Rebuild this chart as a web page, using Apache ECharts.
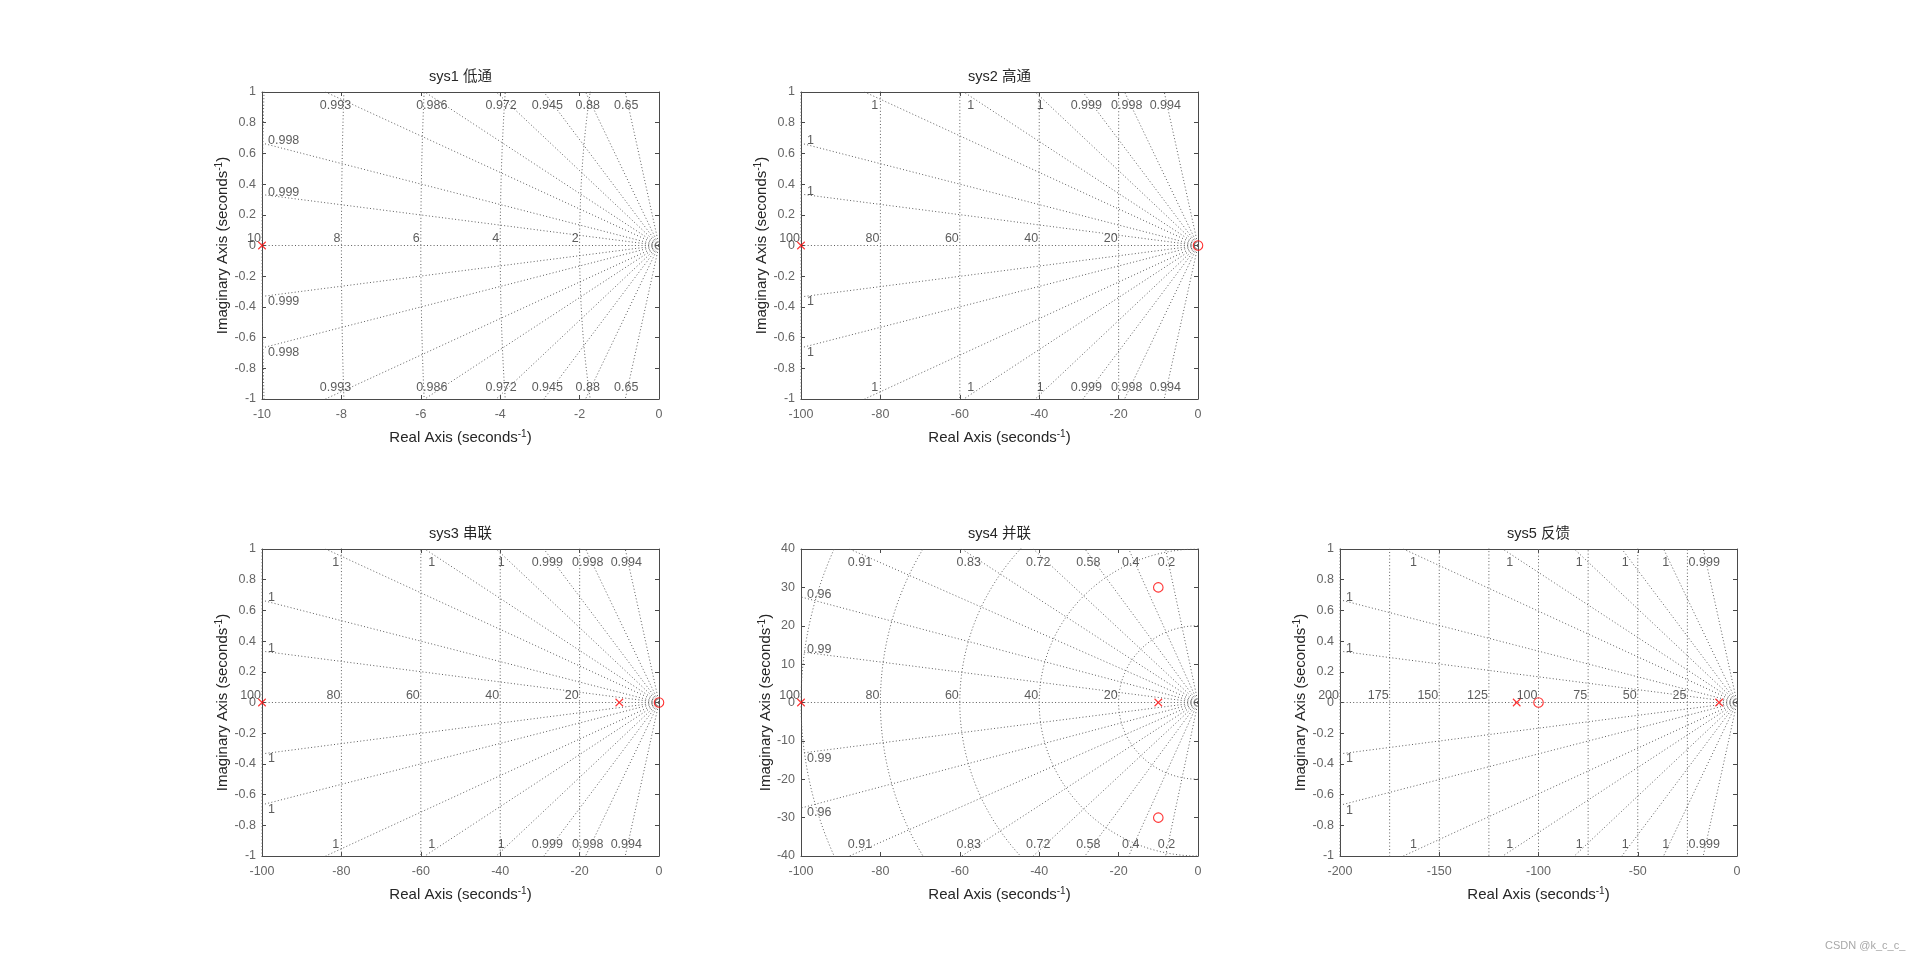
<!DOCTYPE html>
<html><head><meta charset="utf-8">
<script src="https://cdn.jsdelivr.net/npm/echarts@6/dist/echarts.min.js"></script>
<style>html,body{margin:0;padding:0;background:#fff}#c{width:1920px;height:962px}</style>
</head><body><div id="c"></div>
<script>
// ---------------- data ----------------
const titles = ['sys1 低通', 'sys2 高通', 'sys3 串联', 'sys4 并联', 'sys5 反馈'];
const xRanges = [[-10, 0], [-100, 0], [-100, 0], [-100, 0], [-200, 0]];
const yRanges = [[-1, 1], [-1, 1], [-1, 1], [-40, 40], [-1, 1]];
const xIntervals = [2, 20, 20, 20, 50];
const yIntervals = [0.2, 0.2, 0.2, 10, 0.2];

// damping ratios of the grid rays (upper half, mirrored below) and their labels
const zeta1 = [0.99945, 0.99778, 0.99299, 0.98594, 0.97152, 0.94538, 0.8797, 0.6476];
const zetaLabels1 = ['0.999', '0.998', '0.993', '0.986', '0.972', '0.945', '0.88', '0.65'];
const zeta2 = [0.9999944, 0.9999778, 0.9999291, 0.9998564, 0.9997026, 0.999406, 0.998542, 0.993151];
const zetaLabels2 = ['1', '1', '1', '1', '1', '0.999', '0.998', '0.994'];
const zeta3 = [0.9999944, 0.9999778, 0.9999291, 0.9998564, 0.9997026, 0.999406, 0.998542, 0.993151];
const zetaLabels3 = ['1', '1', '1', '1', '1', '0.999', '0.998', '0.994'];
const zeta4 = [0.9914, 0.9642, 0.91, 0.83, 0.72, 0.58, 0.4, 0.2];
const zetaLabels4 = ['0.99', '0.96', '0.91', '0.83', '0.72', '0.58', '0.4', '0.2'];
const zeta5 = [0.9999986, 0.9999944, 0.9999823, 0.9999641, 0.9999256, 0.9998514, 0.9996348, 0.998275];
const zetaLabels5 = ['1', '1', '1', '1', '1', '1', '1', '0.999'];

// natural frequency arcs
const wn1 = [2, 4, 6, 8, 10];
const wn2 = [20, 40, 60, 80, 100];
const wn3 = [20, 40, 60, 80, 100];
const wn4 = [20, 40, 60, 80, 100];
const wn5 = [25, 50, 75, 100, 125, 150, 175, 200];

// poles (x) and zeros (o)
const poles1 = [[-10, 0]];
const zeros1 = [];
const poles2 = [[-100, 0]];
const zeros2 = [[0, 0]];
const poles3 = [[-100, 0], [-10, 0]];
const zeros3 = [[0, 0]];
const poles4 = [[-100, 0], [-10, 0]];
const zeros4 = [[-10, 30], [-10, -30]];
const poles5 = [[-110.99, 0], [-9.01, 0]];
const zeros5 = [[-100, 0]];

const zetas = [zeta1, zeta2, zeta3, zeta4, zeta5];
const zetaLabels = [zetaLabels1, zetaLabels2, zetaLabels3, zetaLabels4, zetaLabels5];
const wns = [wn1, wn2, wn3, wn4, wn5];
const poles = [poles1, poles2, poles3, poles4, poles5];
const zerosAll = [zeros1, zeros2, zeros3, zeros4, zeros5];

// ---------------- layout ----------------
const gridPos = [[262, 92], [801, 92], [262, 549], [801, 549], [1340, 549]];
const GW = 397, GH = 307;
const yNameGap = [31, 31, 31, 27, 31];

const FONT = "'Liberation Sans', Arial, 'Noto Sans CJK SC', sans-serif";
const GRIDCOLOR = '#5e5e5e';
const GRIDLINE = { type: [1, 2.3], width: 1, color: GRIDCOLOR };

const option = {
  animation: false,
  backgroundColor: '#fff',
  title: [], grid: [], xAxis: [], yAxis: [], series: [],
  graphic: [{
    type: 'text', left: 1825, top: 940,
    style: { text: 'CSDN @k_c_c_', fill: '#a8a8a8', font: "11px " + FONT }
  }]
};

function axisCommon() {
  return {
    type: 'value',
    axisLine: { show: true, onZero: false, lineStyle: { color: '#4a4a4a', width: 1 } },
    axisTick: { show: true, inside: true, length: 4, lineStyle: { color: '#4a4a4a' } },
    splitLine: { show: false },
  };
}

for (let i = 0; i < 5; i++) {
  const [gx, gy] = gridPos[i];
  const [xmin, xmax] = xRanges[i];
  const [ymin, ymax] = yRanges[i];
  option.grid.push({ left: gx, top: gy, width: GW, height: GH, containLabel: false });
  option.title.push({
    text: titles[i], left: gx + GW / 2, top: gy - 22, textAlign: 'center', padding: 0,
    textStyle: { fontSize: 14.5, fontWeight: 'normal', color: '#262626', fontFamily: FONT }
  });
  const xa = Object.assign(axisCommon(), {
    gridIndex: i, position: 'bottom', min: xmin, max: xmax, interval: xIntervals[i],
    axisLabel: { show: true, margin: 9.5, color: '#666666', fontSize: 12.5, fontFamily: FONT },
    name: 'Real Axis (seconds{sup|-1})', nameLocation: 'middle', nameGap: 30.5,
    nameTextStyle: { fontSize: 15, color: '#262626', fontFamily: FONT,
      rich: { sup: { fontSize: 10, verticalAlign: 'top', color: '#262626', fontFamily: FONT, padding: [0, 0, 7, 0] } } }
  });
  const xaTop = Object.assign(axisCommon(), {
    gridIndex: i, position: 'top', min: xmin, max: xmax, interval: xIntervals[i],
    axisLabel: { show: false }
  });
  const ya = Object.assign(axisCommon(), {
    gridIndex: i, position: 'left', min: ymin, max: ymax, interval: yIntervals[i],
    axisLabel: { show: true, margin: 6, color: '#666666', fontSize: 12.5, fontFamily: FONT },
    name: 'Imaginary Axis (seconds{sup|-1})', nameLocation: 'middle', nameGap: yNameGap[i], nameRotate: 90,
    nameTextStyle: { fontSize: 15, color: '#262626', fontFamily: FONT,
      rich: { sup: { fontSize: 10, verticalAlign: 'top', color: '#262626', fontFamily: FONT, padding: [0, 0, 7, 0] } } }
  });
  const yaRight = Object.assign(axisCommon(), {
    gridIndex: i, position: 'right', min: ymin, max: ymax, interval: yIntervals[i],
    axisLabel: { show: false }
  });
  option.xAxis.push(xa, xaTop);
  option.yAxis.push(ya, yaRight);
  const xi = 2 * i, yi = 2 * i;

  const lineSeries = (pts) => ({
    type: 'line', xAxisIndex: xi, yAxisIndex: yi, data: pts, showSymbol: false, symbol: 'none',
    silent: true, clip: true, lineStyle: GRIDLINE, z: 1
  });

  // real axis (zeta = 1)
  option.series.push(lineSeries([[0, 0], [xmin, 0]]));

  const labelData = [];
  // damping rays
  zetas[i].forEach((z, k) => {
    const s = Math.sqrt(1 - z * z);
    const tx = -xmin / z, ty = ymax / s;
    const t = Math.min(tx, ty);
    const ex = -z * t, ey = s * t;
    option.series.push(lineSeries([[0, 0], [ex, ey]]));
    option.series.push(lineSeries([[0, 0], [ex, -ey]]));
    const txt = zetaLabels[i][k];
    if (tx < ty) {
      labelData.push({ name: txt, value: [xmin, ey], label: { align: 'left', offset: [6, -2.5] } });
      labelData.push({ name: txt, value: [xmin, -ey], label: { align: 'left', offset: [6, 5] } });
    } else {
      labelData.push({ name: txt, value: [0.97 * ex, ymax], label: { align: 'center', offset: [0, 13.5] } });
      labelData.push({ name: txt, value: [0.97 * ex, ymin], label: { align: 'center', offset: [0, -11.5] } });
    }
  });
  // natural frequency arcs
  wns[i].forEach(w => {
    const pts = [];
    for (let a = 90; a <= 270; a += 1) {
      const r = a * Math.PI / 180;
      pts.push([w * Math.cos(r), w * Math.sin(r)]);
    }
    option.series.push(lineSeries(pts));
    labelData.push({ name: String(w), value: [-w, 0], label: { align: 'right', offset: [-1, -7] } });
  });
  option.series.push({
    type: 'scatter', xAxisIndex: xi, yAxisIndex: yi, data: labelData, symbolSize: 1, clip: false, silent: true,
    itemStyle: { color: 'rgba(0,0,0,0)' }, z: 3,
    label: { show: true, position: 'inside', formatter: '{b}', color: '#333333', fontSize: 12.5, fontFamily: FONT, verticalAlign: 'middle' }
  });
  // poles and zeros
  option.series.push({
    type: 'scatter', xAxisIndex: xi, yAxisIndex: yi, data: poles[i], clip: false, silent: true, z: 5,
    symbol: 'path://M0,0L10,10M10,0L0,10', symbolSize: 7.5,
    itemStyle: { color: 'rgba(0,0,0,0)', borderColor: '#ff0000', borderWidth: 1.1 }
  });
  option.series.push({
    type: 'scatter', xAxisIndex: xi, yAxisIndex: yi, data: zerosAll[i], clip: false, silent: true, z: 5,
    symbol: 'circle', symbolSize: 9.5,
    itemStyle: { color: 'rgba(0,0,0,0)', borderColor: '#ff0000', borderWidth: 1.1 }
  });
}

const chart = echarts.init(document.getElementById('c'), null, { renderer: 'canvas' });
chart.setOption(option);
</script>
</body></html>
